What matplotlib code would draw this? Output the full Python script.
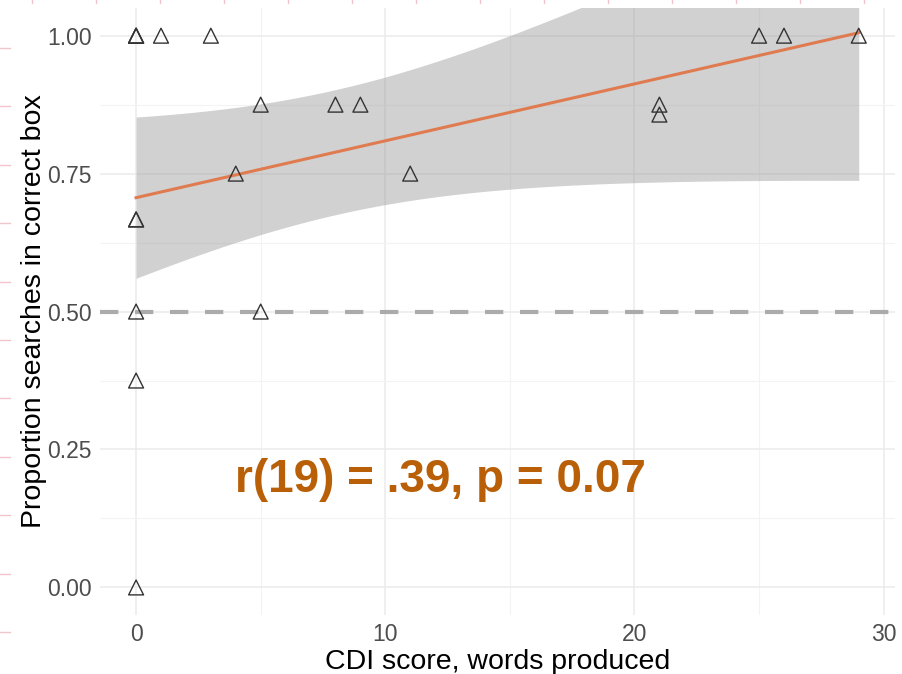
import matplotlib.pyplot as plt
import numpy as np

# CDI words produced vs proportion of correct searches, one point per child
cdi_words = [0, 0, 0, 1, 3, 0, 0, 0, 0, 0, 4, 5, 5, 8, 9, 11, 21, 21, 25, 26, 29]
prop_correct = [1.0, 1.0, 1.0, 1.0, 1.0, 0.667, 0.667, 0.5, 0.375, 0.0,
                0.75, 0.875, 0.5, 0.875, 0.875, 0.75, 0.875, 0.857, 1.0, 1.0, 1.0]
chance = 0.5
stats_label = "r(19) = .39, p = 0.07"
x_ticks = [0, 10, 20, 30]
y_ticks = [0.0, 0.25, 0.5, 0.75, 1.0]
y_ticklabels = ["0.00", "0.25", "0.50", "0.75", "1.00"]

plt.rcParams['font.family'] = ['Liberation Sans', 'DejaVu Sans']

x = np.array(cdi_words, dtype=float)
y = np.array(prop_correct, dtype=float)
n = len(x)

# linear fit + 95% confidence band (like geom_smooth(method="lm"))
slope, intercept = np.polyfit(x, y, 1)
xs = np.linspace(x.min(), x.max(), 200)
fit = intercept + slope * xs
resid = y - (intercept + slope * x)
s = np.sqrt(np.sum(resid ** 2) / (n - 2))
sxx = np.sum((x - x.mean()) ** 2)
se = s * np.sqrt(1 / n + (xs - x.mean()) ** 2 / sxx)
t_crit = 2.093  # t(0.975, df=19)

fig = plt.figure(figsize=(9.03, 6.74), dpi=100)
ax = fig.add_axes([0.1107, 0.0875, 0.8803, 0.9005])

ax.fill_between(xs, fit - t_crit * se, fit + t_crit * se, color='#999999', alpha=0.45,
                linewidth=0, zorder=2)
ax.axhline(chance, color='#ababab', lw=3, dashes=(4.4, 4.0), zorder=3)
ax.plot(xs, fit, color='#e07b4f', lw=2.2, zorder=4)
ax.scatter(x, y, marker='^', s=115, facecolors='none', edgecolors='#333333',
           linewidths=1.0, zorder=5)

ax.text(12.2, 0.195, stats_label, color='#b85f08', fontsize=33, fontweight='bold',
        ha='center', va='center', zorder=6)

ax.set_xlim(-1.45, 30.45)
ax.set_ylim(-0.05, 1.05)
ax.set_xticks(x_ticks)
ax.set_yticks(y_ticks)
ax.set_yticklabels(y_ticklabels)
ax.set_xticks([5, 15, 25], minor=True)
ax.set_yticks([0.125, 0.375, 0.625, 0.875], minor=True)
ax.grid(which='major', color='#ebebeb', lw=1.1)
ax.grid(which='minor', color='#f3f3f3', lw=0.8)
ax.set_axisbelow(True)
for sp in ax.spines.values():
    sp.set_visible(False)
ax.tick_params(which='both', length=0, labelsize=16.5, labelcolor='#4d4d4d', pad=6)

ax.set_xlabel("CDI score, words produced", fontsize=20.5, labelpad=2)
ax.set_ylabel("Proportion searches in correct box", fontsize=20.5, labelpad=0)

# faint ruler marks along the left and top edges
for yy in np.arange(48, 674, 58.4):
    fig.add_artist(plt.Line2D([0, 10 / 903], [1 - yy / 674] * 2, color='#f2c4cc', lw=1))
for xx in np.arange(32, 903, 64):
    fig.add_artist(plt.Line2D([xx / 903] * 2, [1, 1 - 3 / 674], color='#f2c4cc', lw=1))

fig.savefig('out.png', dpi=100)
